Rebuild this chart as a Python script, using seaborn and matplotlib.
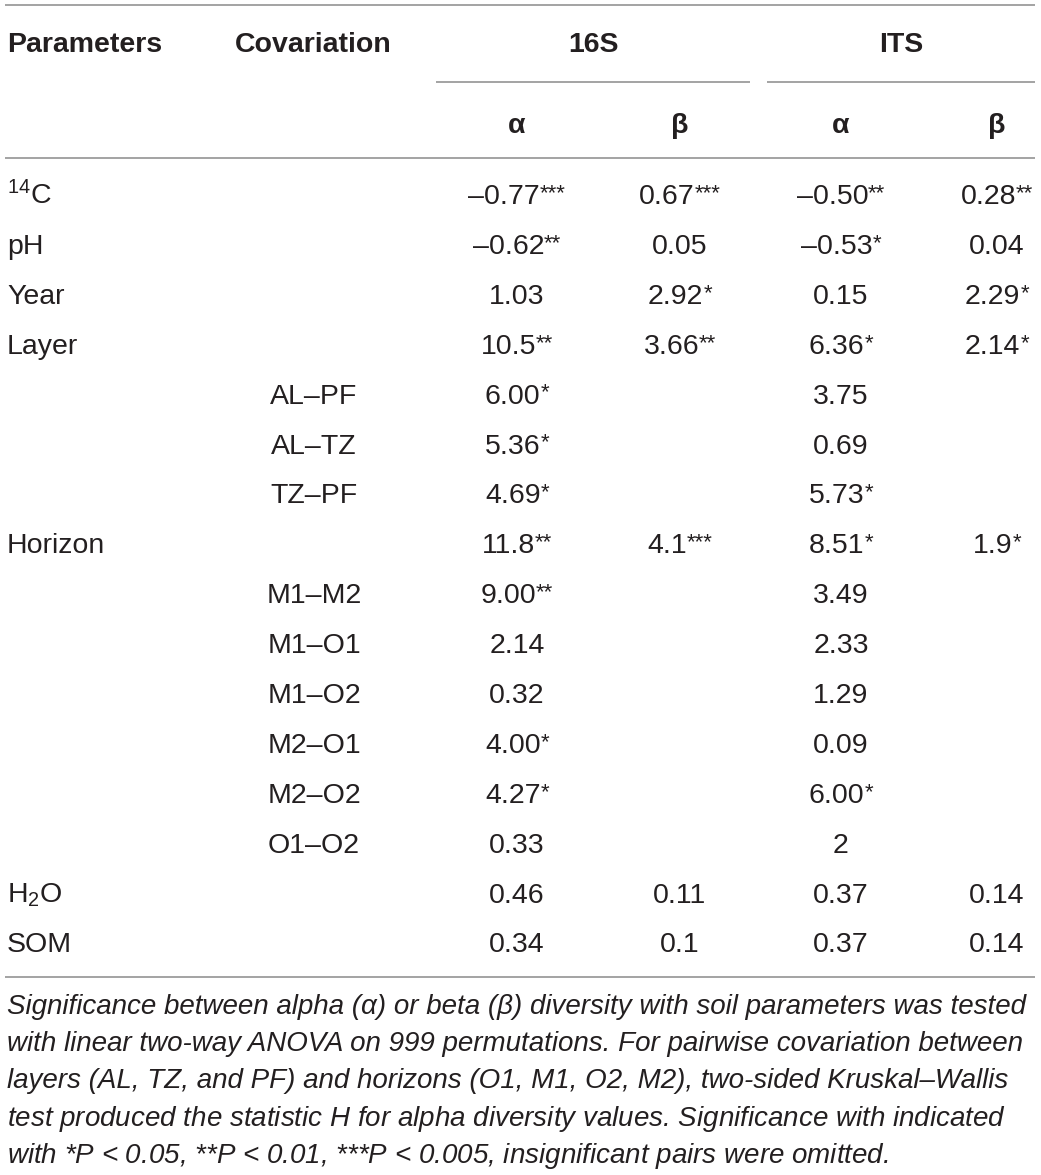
import seaborn as sns
import matplotlib.pyplot as plt

# Table content
params = ["$^{14}$C", "pH", "Year", "Layer", "", "", "", "Horizon",
          "", "", "", "", "", "", "H$_2$O", "SOM"]
covariation = ["", "", "", "", "AL–PF", "AL–TZ", "TZ–PF", "",
               "M1–M2", "M1–O1", "M1–O2", "M2–O1", "M2–O2", "O1–O2", "", ""]
alpha_16s = ["–0.77***", "–0.62**", "1.03", "10.5**", "6.00*", "5.36*", "4.69*", "11.8**",
             "9.00**", "2.14", "0.32", "4.00*", "4.27*", "0.33", "0.46", "0.34"]
beta_16s = ["0.67***", "0.05", "2.92*", "3.66**", "", "", "", "4.1***",
            "", "", "", "", "", "", "0.11", "0.1"]
alpha_its = ["–0.50**", "–0.53*", "0.15", "6.36*", "3.75", "0.69", "5.73*", "8.51*",
             "3.49", "2.33", "1.29", "0.09", "6.00*", "2", "0.37", "0.37"]
beta_its = ["0.28**", "0.04", "2.29*", "2.14*", "", "", "", "1.9*",
            "", "", "", "", "", "", "0.14", "0.14"]

groups = ["16S", "ITS"]
sub_headers = ["α", "β", "α", "β"]

caption = [
    "Significance between alpha (α) or beta (β) diversity with soil parameters was tested",
    "with linear two-way ANOVA on 999 permutations. For pairwise covariation between",
    "layers (AL, TZ, and PF) and horizons (O1, M1, O2, M2), two-sided Kruskal–Wallis",
    "test produced the statistic $H$ for alpha diversity values. Significance with indicated",
    "with *$P$ < 0.05, **$P$ < 0.01, ***$P$ < 0.005, insignificant pairs were omitted.",
]

sns.set_theme(style="white")
plt.rcParams['font.family'] = ['Liberation Sans', 'DejaVu Sans']
plt.rcParams['mathtext.fontset'] = 'custom'
plt.rcParams['mathtext.rm'] = 'Liberation Sans'
plt.rcParams['mathtext.it'] = 'Liberation Sans:italic'
plt.rcParams['mathtext.bf'] = 'Liberation Sans:bold'

W, H = 1041, 1175
fig = plt.figure(figsize=(W / 100, H / 100), dpi=100)
ax = fig.add_axes([0, 0, 1, 1])
ax.set_xlim(0, W)
ax.set_ylim(H, 0)
ax.axis("off")
renderer = fig.canvas.get_renderer()

fs = 20.5
star_fs = 16
line_kw = dict(color="#8a8a8a", linewidth=1.1)
txt = "#231f20"

col_x = [517, 680, 841, 997]
group_x = [(436, 750), (767, 1035)]


def width_of(t):
    return t.get_window_extent(renderer=renderer).width


def cell(cx, y, s):
    # number centred together with its raised significance stars
    if not s:
        return
    num = s.rstrip("*")
    stars = s[len(num):]
    t1 = ax.text(cx, y, num, fontsize=fs, color=txt, ha="left", va="baseline")
    w1 = width_of(t1)
    w2 = 0
    t2 = None
    if stars:
        t2 = ax.text(cx, y - 21, stars, fontsize=star_fs, color=txt, ha="left", va="top")
        w2 = width_of(t2)
    left = cx - (w1 + w2) / 2
    t1.set_x(left)
    if t2 is not None:
        t2.set_x(left + w1)


# rules
ax.hlines([5, 158, 977], 5, 1035, **line_kw)
for x0, x1 in group_x:
    ax.hlines(82, x0, x1, **line_kw)

# header
ax.text(7, 52, "Parameters", fontsize=fs, fontweight="bold", color=txt, va="baseline")
ax.text(235, 52, "Covariation", fontsize=fs, fontweight="bold", color=txt, va="baseline")
for (x0, x1), g in zip(group_x, groups):
    ax.text((x0 + x1) / 2, 52, g, fontsize=fs, fontweight="bold", color=txt,
            ha="center", va="baseline")
for x, s in zip(col_x, sub_headers):
    ax.text(x, 133, s, fontsize=fs, fontweight="bold", color=txt, ha="center", va="baseline")

# body
y0, dy = 204, 49.9
columns = [alpha_16s, beta_16s, alpha_its, beta_its]
for i in range(len(params)):
    y = y0 + dy * i
    ax.text(7, y, params[i], fontsize=fs, color=txt, va="baseline")
    ax.text(314, y, covariation[i], fontsize=fs, color=txt, ha="center", va="baseline")
    for x, col in zip(col_x, columns):
        cell(x, y, col[i])

# footnote
for i, line in enumerate(caption):
    ax.text(7, 1014 + 37.2 * i, line, fontsize=20.0, fontstyle="italic",
            color=txt, va="baseline")

fig.savefig("out.png", dpi=100)
